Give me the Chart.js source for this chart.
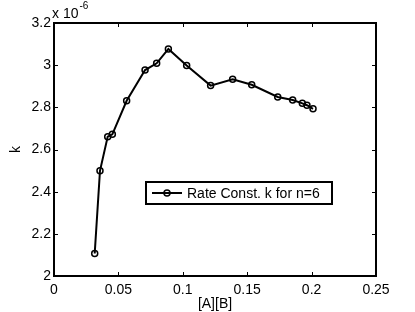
<!DOCTYPE html>
<html>
<head>
<meta charset="utf-8">
<script src="https://cdn.jsdelivr.net/npm/chart.js@4/dist/chart.umd.min.js"></script>
<style>
html,body{margin:0;padding:0;background:#fff;}
#wrap{width:415px;height:312px;position:relative;}
</style>
</head>
<body>
<div id="wrap"><canvas id="c" width="415" height="312"></canvas></div>
<script>
// Data (k in units of 1e-6)
const abValues = [0.0316, 0.0357, 0.0417, 0.0453, 0.0564, 0.0707, 0.0797, 0.0888, 0.1030, 0.1216, 0.1387, 0.1535, 0.1737, 0.1853, 0.1928, 0.1964, 0.2011];
const kValues  = [2.107, 2.499, 2.661, 2.672, 2.831, 2.977, 3.009, 3.077, 2.998, 2.903, 2.933, 2.907, 2.849, 2.835, 2.819, 2.810, 2.793];
const seriesLabel = 'Rate Const. k for n=6';
const xTitle = '[A][B]';
const yTitle = 'k';
const exponentText = 'x 10';
const exponentSup = '-6';
const xTicks = [0, 0.05, 0.1, 0.15, 0.2, 0.25];
const yTicks = [2, 2.2, 2.4, 2.6, 2.8, 3, 3.2];

const FONT = '"Liberation Sans", Arial, Helvetica, sans-serif';

const points = abValues.map((x, i) => ({x: x, y: kValues[i]}));

const decorPlugin = {
  id: 'decor',
  afterDraw(chart) {
    const ctx = chart.ctx;
    const a = chart.chartArea;
    const xs = chart.scales.x, ys = chart.scales.y;
    ctx.save();
    // frame
    ctx.strokeStyle = '#000';
    ctx.lineWidth = 2;
    ctx.strokeRect(a.left, a.top, a.right - a.left, a.bottom - a.top);
    // inward ticks
    const tl = 4;
    ctx.lineWidth = 1;
    ctx.beginPath();
    xs.ticks.forEach(t => {
      const px = Math.round(xs.getPixelForValue(t.value)) + 0.5;
      ctx.moveTo(px, a.bottom); ctx.lineTo(px, a.bottom - tl);
      ctx.moveTo(px, a.top); ctx.lineTo(px, a.top + tl);
    });
    ys.ticks.forEach(t => {
      const py = Math.round(ys.getPixelForValue(t.value)) + 0.5;
      ctx.moveTo(a.left, py); ctx.lineTo(a.left + tl, py);
      ctx.moveTo(a.right, py); ctx.lineTo(a.right - tl, py);
    });
    ctx.stroke();
    // axis titles
    ctx.fillStyle = '#000';
    ctx.font = '14px ' + FONT;
    ctx.textAlign = 'center';
    ctx.textBaseline = 'alphabetic';
    ctx.fillText(xTitle, (a.left + a.right) / 2, 308);
    ctx.save();
    ctx.translate(20, (a.top + a.bottom) / 2);
    ctx.rotate(-Math.PI / 2);
    ctx.fillText(yTitle, 0, 0);
    ctx.restore();
    // exponent
    ctx.textAlign = 'left';
    ctx.font = '14px ' + FONT;
    ctx.fillText(exponentText, 52, 18);
    const w = ctx.measureText(exponentText).width;
    ctx.font = '10px ' + FONT;
    ctx.fillText(exponentSup, 52 + w + 1, 9);
    // legend
    const lx = 146, ly = 182, lw = 186, lh = 22;
    ctx.fillStyle = '#fff';
    ctx.fillRect(lx, ly, lw, lh);
    ctx.lineWidth = 2;
    ctx.strokeStyle = '#000';
    ctx.strokeRect(lx, ly, lw, lh);
    const cy = ly + lh / 2;
    ctx.lineWidth = 2;
    ctx.beginPath();
    ctx.moveTo(152, cy); ctx.lineTo(182, cy);
    ctx.stroke();
    ctx.lineWidth = 1.5;
    ctx.beginPath();
    ctx.arc(167, cy, 3, 0, Math.PI * 2);
    ctx.stroke();
    ctx.fillStyle = '#000';
    ctx.font = '14px ' + FONT;
    ctx.textBaseline = 'middle';
    ctx.fillText(seriesLabel, 187, cy + 1);
    ctx.restore();
  }
};

new Chart(document.getElementById('c'), {
  type: 'scatter',
  data: {
    datasets: [{
      label: seriesLabel,
      data: points,
      showLine: true,
      borderColor: '#000',
      borderWidth: 2,
      pointRadius: 3,
      pointBorderWidth: 1.5,
      pointBorderColor: '#000',
      pointBackgroundColor: 'rgba(0,0,0,0)',
      tension: 0
    }]
  },
  options: {
    responsive: false,
    animation: false,
    devicePixelRatio: 1,
    layout: {padding: {left: 0, right: 39, top: 23, bottom: 0}},
    plugins: {legend: {display: false}, tooltip: {enabled: false}},
    scales: {
      x: {
        type: 'linear',
        min: 0, max: 0.25,
        afterFit(s) { s.height = 36; },
        afterBuildTicks(s) { s.ticks = xTicks.map(v => ({value: v})); },
        grid: {display: false, drawTicks: false},
        border: {display: false},
        ticks: {
          padding: 6,
          color: '#000',
          font: {family: FONT, size: 14},
          maxRotation: 0,
          callback: v => String(Number(v.toFixed(2)))
        }
      },
      y: {
        type: 'linear',
        min: 2, max: 3.2,
        afterFit(s) { s.width = 54; },
        afterBuildTicks(s) { s.ticks = yTicks.map(v => ({value: v})); },
        grid: {display: false, drawTicks: false},
        border: {display: false},
        ticks: {
          padding: 3,
          color: '#000',
          font: {family: FONT, size: 14},
          callback: v => String(Number(v.toFixed(1)))
        }
      }
    }
  },
  plugins: [decorPlugin]
});
</script>
</body>
</html>
